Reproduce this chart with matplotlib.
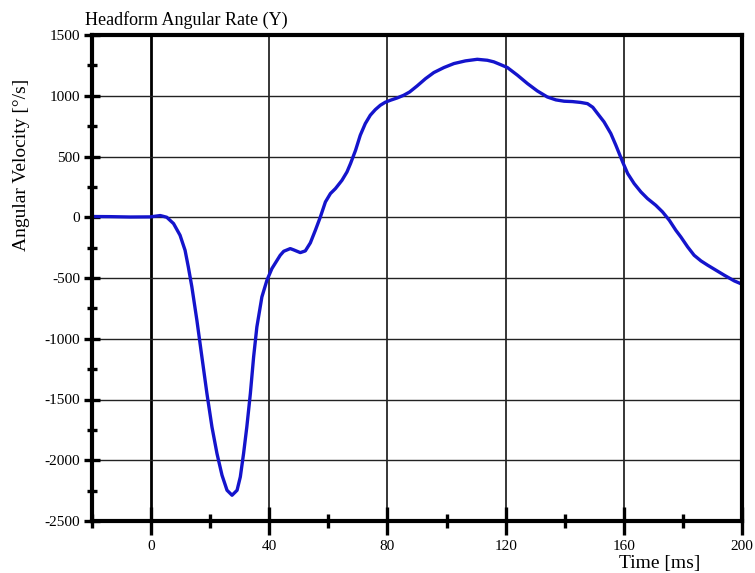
import matplotlib
matplotlib.use('Agg')
import matplotlib.pyplot as plt
from matplotlib.ticker import MultipleLocator

plt.rcParams['font.family'] = ['Liberation Serif', 'DejaVu Serif']
plt.rcParams['axes.unicode_minus'] = False

# data
time_ms = [-20, -13.9, -7.1, -0.3, 3.1, 5.3, 7.6, 9.8, 11.5, 12.6, 13.8, 15.5, 17.2,
           18.9, 20.6, 22.3, 24, 25.7, 27.4, 29.1, 30.2, 31.3, 32.4, 33.6, 34.7, 35.8,
           37.5, 39.2, 40.9, 43.7, 44.9, 47.1, 48.2, 50.5, 52.2, 53.9, 55.6, 57.3,
           59, 60.7, 62.4, 64.6, 66.3, 67.5, 69.2, 70.8, 72.5, 74.2, 75.9, 77.6,
           79.3, 81, 83.3, 85.5, 87.5, 90, 92.9, 95.7, 99.1, 102.5, 106.4, 110.4,
           113.8, 116, 118.3, 120.6, 124, 127.4, 130.7, 134.1, 137, 139.8, 142.6,
           145.4, 147.7, 149.5, 151.1, 153.3, 155.6, 157.3, 159.6, 161.3, 163.5,
           165.8, 168, 170.8, 173.1, 175.4, 177.6, 179.3, 181.6, 183.8, 186.1,
           188.4, 191.2, 194, 197.4, 200]
ang_vel = [6, 5, 2, 3, 14, 0, -52, -148, -272, -409, -573, -848, -1150,
           -1451, -1726, -1945, -2123, -2247, -2288, -2247, -2137, -1945, -1726, -1451,
           -1150, -903, -656, -519, -422, -313, -280, -258, -268, -291, -277, -211,
           -107, 3, 126, 195, 236, 304, 373, 442, 551, 675, 771, 840, 886, 922,
           947, 963, 982, 1004, 1031, 1080, 1141, 1191, 1232, 1265, 1287, 1300,
           1292, 1279, 1256, 1232, 1169, 1100, 1040, 990, 966, 955, 952,
           945, 935, 905, 854, 785, 689, 593, 455, 360, 277,
           208, 154, 99, 44, -25, -107, -162, -244, -313, -359,
           -395, -436, -477, -524, -551]

x_major = [0, 40, 80, 120, 160, 200]
y_major = [-2500, -2000, -1500, -1000, -500, 0, 500, 1000, 1500]

fig = plt.figure(figsize=(7.55, 5.73), dpi=100)
ax = fig.add_axes([92/755, 1-521/573, 650/755, 486/573])

ax.plot(time_ms, ang_vel, color='#1414cc', lw=2.4, zorder=3,
        solid_joinstyle='round', solid_capstyle='round')

ax.set_xlim(-20, 200)
ax.set_ylim(-2500, 1500)
ax.set_xticks(x_major)
ax.set_yticks(y_major)
ax.xaxis.set_minor_locator(MultipleLocator(20))
ax.yaxis.set_minor_locator(MultipleLocator(250))

# grid
for xv in x_major:
    ax.axvline(xv, color='black', lw=2.0 if xv == 0 else 1.1, zorder=1)
for yv in y_major:
    ax.axhline(yv, color='#222222', lw=1.0, zorder=1)

for s in ax.spines.values():
    s.set_linewidth(3)
    s.set_zorder(4)

ax.tick_params(axis='x', which='major', direction='inout', length=20, width=2.4,
               pad=3.5, labelsize=11)
ax.tick_params(axis='x', which='minor', direction='inout', length=10, width=2.4)
ax.tick_params(axis='y', which='major', direction='inout', length=11, width=2.4,
               pad=3, labelsize=11)
ax.tick_params(axis='y', which='minor', direction='inout', length=7, width=2.4)

fig.text(85/755, 1-20/573, 'Headform Angular Rate (Y)', fontsize=13,
         ha='left', va='center')
ax.text(-0.108, 0.732, 'Angular Velocity [°/s]', transform=ax.transAxes,
        rotation=90, ha='center', va='center', fontsize=14)
ax.text(0.874, -0.087, 'Time [ms]', transform=ax.transAxes,
        ha='center', va='center', fontsize=14)

fig.savefig('out.png', dpi=100)
